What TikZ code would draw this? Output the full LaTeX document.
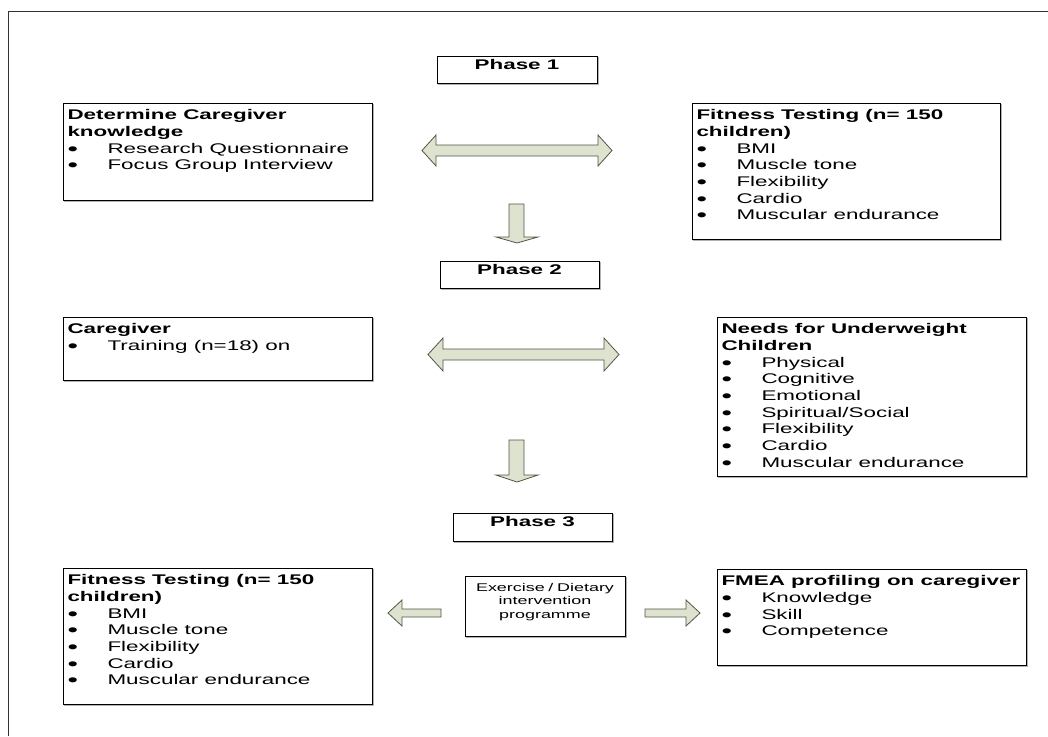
\documentclass[tikz,border=0pt]{standalone}
\usepackage{fontspec}
\setmainfont{Liberation Sans}[FakeStretch=1.6]
\usepackage{tikz}
\usetikzlibrary{fit,shadows}
\definecolor{arrowfill}{RGB}{221,227,206}
\definecolor{arrowline}{RGB}{80,85,70}
\newcommand{\itm}[1]{\makebox[30pt][l]{\raisebox{-1.6pt}[0pt][0pt]{\fontsize{14}{12}\selectfont\textbullet}}#1}

\begin{document}
\begin{tikzpicture}[x=0.75pt, y=-0.75pt,
                box/.style = {draw, fill=white, line width=0.6pt, inner sep=0pt,
                              copy shadow={shadow xshift=0.7pt, shadow yshift=-0.7pt, draw=gray!60, fill=gray!60}},
                txt/.style = {anchor=north west, align=left, inner xsep=3.5pt, inner ysep=5pt,
                              font=\fontsize{10.5}{12.5}\selectfont},
                phase/.style = {box, font=\fontsize{10.5}{12.5}\selectfont\bfseries},
                blk/.style = {fill=arrowfill, draw=arrowline, line width=0.6pt, line join=miter}]
    \useasboundingbox (0,0) rectangle (1048,736);
    \draw[line width=0.75pt, black!80] (8,736) -- (8,11) -- (1048,11);

    \node[phase, fit={(437,56) (597,83)}] (ph1) {Phase 1};
    \node[phase, fit={(440,261) (599,288)}] (ph2) {Phase 2};
    \node[phase, fit={(453,513) (612,541)}] (ph3) {Phase 3};

    \node[box, fit={(63,103) (372,200)}] (know) {};
    \node[txt] (know-t) at (know.north west)
        {\textbf{Determine Caregiver}\\
         \textbf{knowledge}\\
         \itm{Research Questionnaire}\\
         \itm{Focus Group Interview}};

    \node[box, fit={(692,103) (1000,239)}] (fit1) {};
    \node[txt] (fit1-t) at (fit1.north west)
        {\textbf{Fitness Testing (n= 150}\\
         \textbf{children)}\\
         \itm{BMI}\\
         \itm{Muscle tone}\\
         \itm{Flexibility}\\
         \itm{Cardio}\\
         \itm{Muscular endurance}};

    \node[box, fit={(63,317) (372,380)}] (care) {};
    \node[txt] (care-t) at (care.north west)
        {\textbf{Caregiver}\\
         \itm{Training (n=18) on}};

    \node[box, fit={(717,317) (1026,476)}] (needs) {};
    \node[txt] (needs-t) at (needs.north west)
        {\textbf{Needs for Underweight}\\
         \textbf{Children}\\
         \itm{Physical}\\
         \itm{Cognitive}\\
         \itm{Emotional}\\
         \itm{Spiritual/Social}\\
         \itm{Flexibility}\\
         \itm{Cardio}\\
         \itm{Muscular endurance}};

    \node[box, fit={(63,568) (372,704)}] (fit2) {};
    \node[txt] (fit2-t) at (fit2.north west)
        {\textbf{Fitness Testing (n= 150}\\
         \textbf{children)}\\
         \itm{BMI}\\
         \itm{Muscle tone}\\
         \itm{Flexibility}\\
         \itm{Cardio}\\
         \itm{Muscular endurance}};

    \node[box, fit={(465,576) (625,636)}, align=center,
          font=\fontsize{8.4}{10}\selectfont] (exer)
        {Exercise / Dietary\\intervention\\programme};

    \node[box, fit={(717,569) (1026,665)}] (fmea) {};
    \node[txt] (fmea-t) at (fmea.north west)
        {\textbf{FMEA profiling on caregiver}\\
         \itm{Knowledge}\\
         \itm{Skill}\\
         \itm{Competence}};

    \draw[blk] (422,150.5) -- (436,135) -- (436,145) -- (598,145) -- (598,135) -- (612,150.5)
               -- (598,166) -- (598,156) -- (436,156) -- (436,166) -- cycle;
    \draw[blk] (509,204) -- (524,204) -- (524,237) -- (538,237) -- (517,243)
               -- (496,237) -- (509,237) -- cycle;
    \draw[blk] (428,354.5) -- (443,338) -- (443,349) -- (604,349) -- (604,338) -- (619,354.5)
               -- (604,371) -- (604,360) -- (443,360) -- (443,371) -- cycle;
    \draw[blk] (509,440) -- (524,440) -- (524,475) -- (538,475) -- (517,482)
               -- (496,475) -- (509,475) -- cycle;
    \draw[blk] (388,613) -- (402,600) -- (402,609) -- (441,609) -- (441,617)
               -- (402,617) -- (402,626) -- cycle;
    \draw[blk] (700,613) -- (686,600) -- (686,609) -- (645,609) -- (645,617)
               -- (686,617) -- (686,626) -- cycle;
\end{tikzpicture}
\end{document}
